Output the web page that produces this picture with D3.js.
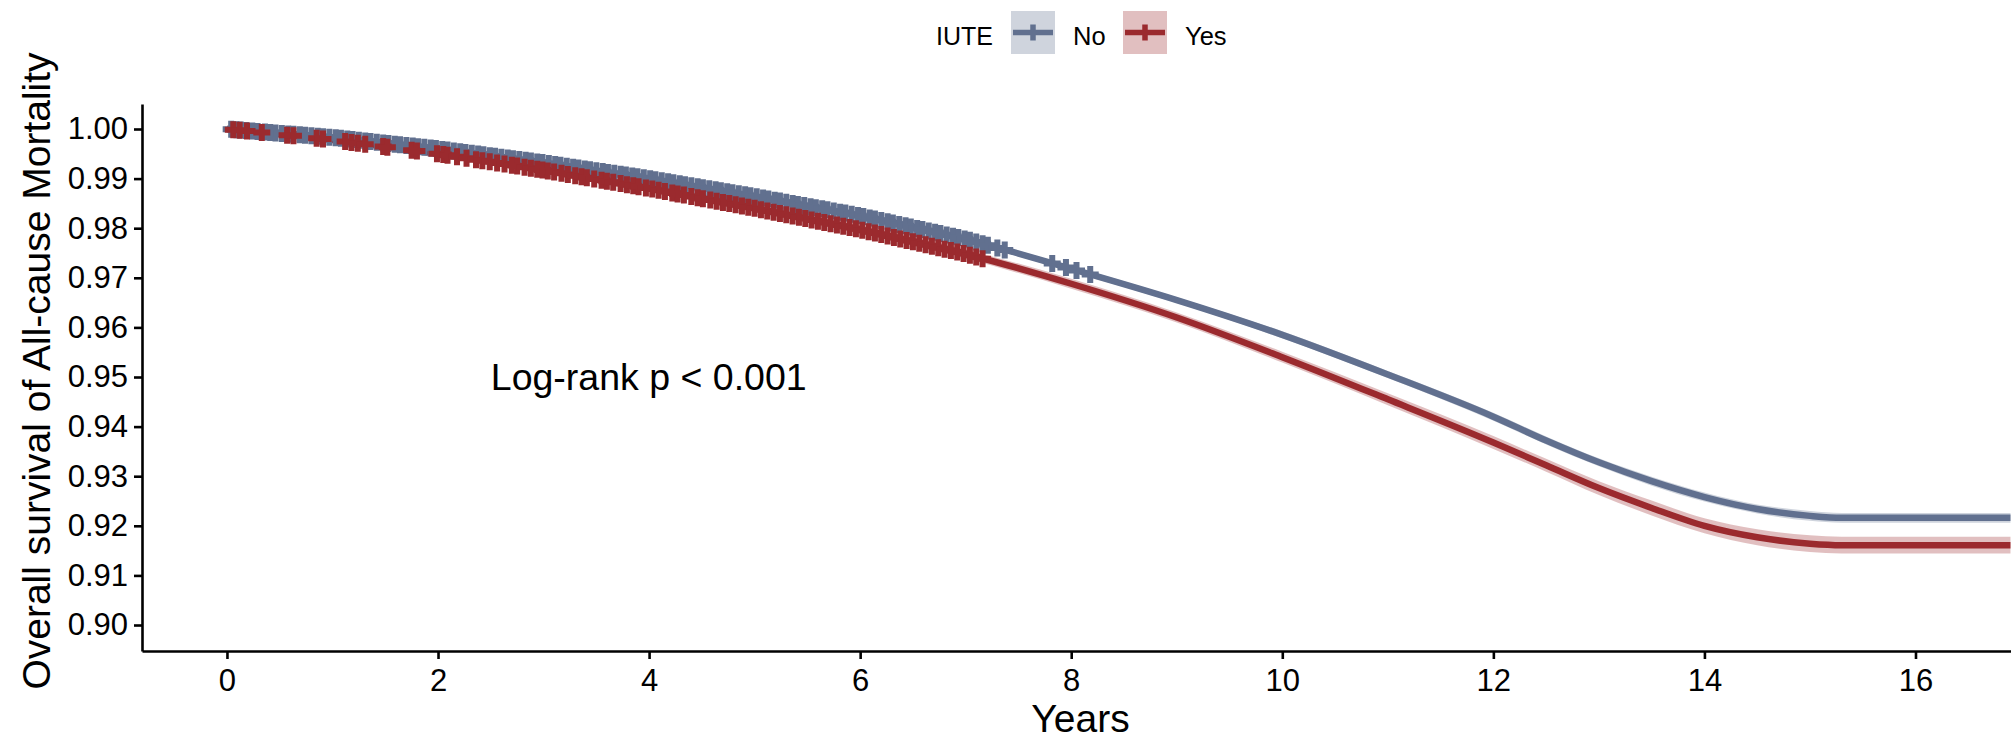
<!DOCTYPE html>
<html>
<head>
<meta charset="utf-8">
<script src="https://cdn.jsdelivr.net/npm/d3@7"></script>
<style>
body{margin:0;background:#fff;}
text{font-family:"Liberation Sans",Arial,sans-serif;}
</style>
</head>
<body>
<svg id="chart" width="2011" height="739"></svg>
<script>
// survival (years vs. proportion surviving)
var times    = [0, 1, 2, 3, 4, 5, 6, 7, 8, 9, 10, 11, 12, 12.5, 13, 13.5, 14, 14.5, 15, 15.3, 16.9];
var survNo   = [1.0000, 0.9983, 0.9960, 0.9932, 0.9900, 0.9864, 0.9825, 0.9778, 0.9718, 0.9655, 0.9585, 0.9505, 0.9420, 0.9372, 0.9328, 0.9290, 0.9258, 0.9234, 0.9220, 0.9216, 0.9216];
var survYes  = [1.0000, 0.9978, 0.9950, 0.9917, 0.9880, 0.9840, 0.9797, 0.9748, 0.9688, 0.9620, 0.9540, 0.9455, 0.9368, 0.9322, 0.9276, 0.9236, 0.9200, 0.9177, 0.9164, 0.9161, 0.9161];
// half width of the confidence band
var ciNo     = [0, 0.0002, 0.0003, 0.0003, 0.0004, 0.0004, 0.0005, 0.0005, 0.0006, 0.0006, 0.0007, 0.0007, 0.0008, 0.0008, 0.0008, 0.0009, 0.0009, 0.0009, 0.0010, 0.0010, 0.0010];
var ciYes    = [0, 0.0003, 0.0004, 0.0005, 0.0006, 0.0007, 0.0008, 0.0009, 0.0010, 0.0010, 0.0011, 0.0012, 0.0013, 0.0013, 0.0014, 0.0015, 0.0015, 0.0016, 0.0017, 0.0017, 0.0017];

// censoring times
var censorNo = [0.04,0.09,0.13,0.18,0.24,0.29,0.36,0.41,0.46,0.52,0.58,0.63,0.69,0.74,0.80,0.86,0.91,0.97,1.03,1.08,1.14,1.19,1.25,1.31,1.36,1.42,1.48,1.53,1.59,1.64,1.70,1.76,1.81,1.87,1.93,1.98,2.04,2.09,2.15,2.21,2.26,2.32,2.38,2.43,2.49,2.54,2.60,2.66,2.71,2.77,2.83,2.88,2.94,2.99,3.05,3.11,3.16,3.22,3.28,3.33,3.39,3.44,3.50,3.56,3.61,3.67,3.73,3.78,3.84,3.89,3.95,4.01,4.06,4.12,4.18,4.23,4.29,4.34,4.40,4.46,4.51,4.57,4.63,4.68,4.74,4.79,4.85,4.91,4.96,5.02,5.08,5.13,5.19,5.24,5.30,5.36,5.41,5.47,5.53,5.58,5.64,5.69,5.75,5.81,5.86,5.92,5.98,6.03,6.09,6.14,6.20,6.26,6.31,6.37,6.43,6.48,6.54,6.59,6.65,6.71,6.76,6.82,6.88,6.93,6.99,7.04,7.10,7.16,7.21,7.30,7.37,7.82,7.95,8.05,8.18];
var censorYes = [0.06,0.12,0.19,0.33,0.57,0.63,0.85,0.91,1.12,1.18,1.24,1.31,1.48,1.52,1.75,1.80,1.99,2.05,2.09,2.18,2.27,2.36,2.42,2.49,2.56,2.63,2.70,2.75,2.82,2.88,2.94,2.99,3.04,3.10,3.17,3.23,3.30,3.36,3.41,3.48,3.55,3.60,3.66,3.73,3.79,3.85,3.90,3.97,4.03,4.09,4.15,4.22,4.27,4.33,4.40,4.46,4.51,4.58,4.64,4.70,4.76,4.82,4.88,4.94,5.00,5.06,5.12,5.18,5.24,5.30,5.36,5.42,5.48,5.54,5.60,5.66,5.72,5.78,5.84,5.90,5.96,6.02,6.08,6.14,6.20,6.26,6.32,6.38,6.44,6.50,6.56,6.62,6.68,6.74,6.80,6.86,6.92,6.98,7.04,7.10,7.16];

var groups = ["No", "Yes"];
var colors = ["#61708F", "#9B2A2E"];
var xTicks = [0, 2, 4, 6, 8, 10, 12, 14, 16];
var yTicks = [0.90, 0.91, 0.92, 0.93, 0.94, 0.95, 0.96, 0.97, 0.98, 0.99, 1.00];
var pText = "Log-rank p < 0.001";

function draw(){
	var pl = 142, pr = 2011, pt = 104, pb = 651;

	var svg = d3.select("#chart");

	var xscale = d3.scaleLinear()
					.domain([-0.805, 16.905])
					.range([pl, pr]);
	var yscale = d3.scaleLinear()
					.domain([0.89476, 1.00504])
					.range([pb, pt]);

	var series = [
		{name: groups[0], color: colors[0], surv: survNo, ci: ciNo, censor: censorNo},
		{name: groups[1], color: colors[1], surv: survYes, ci: ciYes, censor: censorYes}
	];

	var area = d3.area()
					.x(function(d){ return xscale(d.t); })
					.y0(function(d){ return yscale(d.s - d.c); })
					.y1(function(d){ return yscale(d.s + d.c); })
					.curve(d3.curveMonotoneX);
	var line = d3.line()
					.x(function(d){ return xscale(d.t); })
					.y(function(d){ return yscale(d.s); })
					.curve(d3.curveMonotoneX);

	series.forEach(function(g){
		g.pts = times.map(function(t, i){ return {t: t, s: g.surv[i], c: g.ci[i]}; });
		g.lookup = d3.scaleLinear().domain(times).range(g.surv);
	});

	var plot = svg.append("g");

	// ribbons
	series.forEach(function(g){
		plot.append("path")
			.attr("d", area(g.pts))
			.attr("fill", g.color)
			.attr("fill-opacity", 0.3);
	});
	// curves
	series.forEach(function(g){
		plot.append("path")
			.attr("d", line(g.pts))
			.attr("fill", "none")
			.attr("stroke", g.color)
			.attr("stroke-width", 6.5);
	});
	// censor marks
	series.forEach(function(g){
		plot.append("g").selectAll("path")
			.data(g.censor)
			.enter().append("path")
				.attr("d", function(t){
					var cx = xscale(t), cy = yscale(g.lookup(t));
					return "M" + (cx - 8.5) + "," + cy + "H" + (cx + 8.5) + "M" + cx + "," + (cy - 8.5) + "V" + (cy + 8.5);
				})
				.attr("stroke", g.color)
				.attr("stroke-width", 6)
				.attr("fill", "none");
	});

	// axes
	var yaxis = d3.axisLeft(yscale)
					.tickValues(yTicks)
					.tickFormat(d3.format(".2f"))
					.tickSize(8)
					.tickSizeOuter(0)
					.tickPadding(6);
	var xaxis = d3.axisBottom(xscale)
					.tickValues(xTicks)
					.tickFormat(d3.format("d"))
					.tickSize(8)
					.tickSizeOuter(0)
					.tickPadding(10);

	var gy = svg.append("g")
				.attr("transform", "translate(" + pl + ",0)")
				.call(yaxis);
	var gx = svg.append("g")
				.attr("transform", "translate(0," + pb + ")")
				.call(xaxis);

	[gx, gy].forEach(function(a){
		a.attr("font-size", 31).attr("font-family", null);
		a.select(".domain").attr("stroke", "#000").attr("stroke-width", 2.6);
		a.selectAll(".tick line").attr("stroke", "#000").attr("stroke-width", 2.6);
		a.selectAll(".tick text").attr("fill", "#000");
	});

	// axis titles
	svg.append("text")
		.text("Years")
		.attr("x", (pl + pr) / 2 + 4)
		.attr("y", 732)
		.attr("text-anchor", "middle")
		.attr("font-size", "39px")
		.attr("fill", "#000");

	svg.append("text")
		.text("Overall survival of All-cause Mortality")
		.attr("transform", "translate(50,371) rotate(-90)")
		.attr("text-anchor", "middle")
		.attr("font-size", "39px")
		.attr("fill", "#000");

	// p value
	svg.append("text")
		.text(pText)
		.attr("x", xscale(2.5))
		.attr("y", yscale(0.95))
		.attr("dy", "0.35em")
		.attr("font-size", "37.5px")
		.attr("fill", "#000");

	// legend
	var legend = svg.append("g");
	legend.append("text")
		.text("IUTE")
		.attr("x", 936)
		.attr("y", 45)
		.attr("font-size", "25px")
		.attr("fill", "#000");

	var keyX = [1011, 1123];
	series.forEach(function(g, i){
		var k = legend.append("g").attr("transform", "translate(" + keyX[i] + ",11)");
		k.append("rect")
			.attr("width", 44)
			.attr("height", 43)
			.attr("fill", g.color)
			.attr("fill-opacity", 0.3);
		k.append("path")
			.attr("d", "M2,21.5H42M22,13.5V29.5")
			.attr("stroke", g.color)
			.attr("stroke-width", 5.5)
			.attr("fill", "none");
		k.append("text")
			.text(g.name)
			.attr("x", 62)
			.attr("y", 34)
			.attr("font-size", "25.5px")
			.attr("fill", "#000");
	});
}

draw();
</script>
</body>
</html>
